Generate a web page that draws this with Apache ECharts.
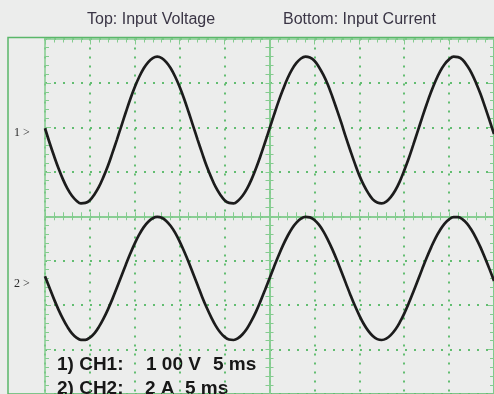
<!DOCTYPE html>
<html>
<head>
<meta charset="utf-8">
<script src="https://cdn.jsdelivr.net/npm/echarts@6/dist/echarts.min.js"></script>
<style>
  html, body { margin: 0; padding: 0; background: #ecedec; }
  #chart { width: 494px; height: 394px; }
</style>
</head>
<body>
<div id="chart"></div>
<script>
// ---- Data (5 ms/div time base) ----
const TIME_MS = [0,0.5,1,1.5,2,2.5,3,3.5,4,4.5,5,5.5,6,6.5,7,7.5,8,8.5,9,9.5,
  10,10.5,11,11.5,12,12.5,13,13.5,14,14.5,15,15.5,16,16.5,17,17.5,18,18.5,19,19.5,
  20,20.5,21,21.5,22,22.5,23,23.5,24,24.5,25,25.5,26,26.5,27,27.5,28,28.5,29,29.5,
  30,30.5,31,31.5,32,32.5,33,33.5,34,34.5,35,35.5,36,36.5,37,37.5,38,38.5,39,39.5,
  40,40.5,41,41.5,42,42.5,43,43.5,44,44.5,45,45.5,46,46.5,47,47.5,48,48.5,49,49.5,50];
// CH1 input voltage (V), 100 V/div
const VOLTAGE = [1,-31,-61,-89,-114,-135,-151,-162,-168,-167,
  -161,-148,-131,-109,-84,-55,-25,6,37,67,
  94,117,136,150,159,162,159,150,136,117,
  94,67,37,6,-25,-55,-84,-109,-131,-148,
  -161,-167,-168,-162,-151,-135,-114,-89,-61,-31,
  0,31,61,88,113,133,148,158,162,160,
  153,139,121,99,72,43,13,-19,-49,-78,
  -105,-127,-145,-159,-166,-168,-164,-154,-139,-119,
  -94,-67,-37,-6,25,55,83,108,129,145,
  156,162,161,155,142,125,103,78,49,19,-12];
// CH2 input current (A), 2 A/div
const CURRENT = [0.10,-0.42,-0.93,-1.40,-1.82,-2.18,-2.47,-2.66,-2.76,-2.76,
  -2.66,-2.47,-2.18,-1.82,-1.40,-0.93,-0.42,0.10,0.62,1.12,
  1.58,1.98,2.31,2.55,2.71,2.77,2.73,2.59,2.36,2.05,
  1.66,1.21,0.73,0.21,-0.31,-0.83,-1.31,-1.74,-2.12,-2.42,
  -2.63,-2.75,-2.77,-2.69,-2.51,-2.25,-1.90,-1.49,-1.02,-0.52,
  0.00,0.52,1.02,1.49,1.90,2.25,2.51,2.69,2.77,2.75,
  2.63,2.42,2.12,1.74,1.31,0.83,0.31,-0.21,-0.73,-1.22,
  -1.66,-2.05,-2.36,-2.59,-2.73,-2.77,-2.71,-2.55,-2.31,-1.98,
  -1.58,-1.12,-0.62,-0.10,0.42,0.93,1.40,1.83,2.18,2.47,
  2.66,2.76,2.76,2.66,2.47,2.18,1.82,1.40,0.92,0.42,-0.11];

const HEADERS = ['Top: Input Voltage', 'Bottom: Input Current'];
const CH_MARKERS = ['1 >', '2 >'];
const SETTINGS_1 = ['1) CH1:', '1 00 V', '5 ms'];
const SETTINGS_2 = ['2) CH2:', '2 A', '5 ms'];

// ---- styling ----
const BG = '#ecedec';
const DOT = '#62bd71';
const SOLID = '#84cc8f';
const FRAME = '#5ab769';
const TRACE = '#1c1c1c';
const PLOT = { left: 45, top: 38.5, width: 452, height: 356 };

const chart = echarts.init(document.getElementById('chart'), null, { renderer: 'canvas' });

function centerX(gi, inside) {
  return {
    gridIndex: gi, type: 'value', min: -25, max: 25, interval: 5,
    axisLine: { show: true, onZero: true, lineStyle: { color: SOLID, width: 1.5 } },
    axisTick: { show: true, inside: inside, length: 4, lineStyle: { color: SOLID, width: 1 } },
    minorTick: { show: true, splitNumber: 5, length: 4, lineStyle: { color: SOLID, width: 1 } },
    axisLabel: { show: false }, splitLine: { show: false }
  };
}
function centerY(gi, inside) {
  return {
    gridIndex: gi, type: 'value', min: -4, max: 4, interval: 1,
    axisLine: { show: true, onZero: true, lineStyle: { color: SOLID, width: 1.5 } },
    axisTick: { show: true, inside: inside, length: 4, lineStyle: { color: SOLID, width: 1 } },
    minorTick: { show: true, splitNumber: 5, length: 4, lineStyle: { color: SOLID, width: 1 } },
    axisLabel: { show: false }, splitLine: { show: false }
  };
}
function edgeAxis(gi, pos, isX) {
  const a = {
    gridIndex: gi, type: 'value', position: pos,
    axisLine: { show: true, onZero: false, lineStyle: { color: SOLID, width: 1.5 } },
    axisTick: { show: true, inside: true, length: 6, lineStyle: { color: SOLID, width: 1 } },
    minorTick: { show: true, splitNumber: 5, length: 4, lineStyle: { color: SOLID, width: 1 } },
    axisLabel: { show: false }, splitLine: { show: false }
  };
  if (isX) { a.min = -25; a.max = 25; a.interval = 5; } else { a.min = -4; a.max = 4; a.interval = 1; }
  return a;
}

function txt(text, x, y, font, fill) {
  return { type: 'text', x: x, y: y, silent: true,
    style: { text: text, font: font, fill: fill, verticalAlign: 'middle', align: 'left' } };
}

const headFont = '16px "Liberation Sans", Arial, sans-serif';
const setFont = 'bold 19px "Liberation Sans", Arial, sans-serif';
const markFont = '12px "Liberation Serif", "Times New Roman", serif';

const option = {
  animation: false,
  backgroundColor: BG,
  grid: [
    Object.assign({}, PLOT, { show: false }),
    Object.assign({}, PLOT, { show: false }),
    Object.assign({}, PLOT, { show: false }),
    Object.assign({}, PLOT, { show: false }),
    { left: 8, top: 37.5, width: 540, height: 420, show: true, borderColor: FRAME, borderWidth: 1.5, backgroundColor: 'transparent' }
  ],
  xAxis: [
    { gridIndex: 0, type: 'value', min: 0, max: 50, interval: 5,
      axisLine: { show: false }, axisTick: { show: false }, axisLabel: { show: false },
      splitLine: { show: true, lineStyle: { color: DOT, width: 2, type: [2, 7] } } },
    centerX(1, false),
    centerX(2, true),
    edgeAxis(3, 'top', true),
    { gridIndex: 4, type: 'value', show: false, min: 0, max: 1 }
  ],
  yAxis: [
    { gridIndex: 0, type: 'value', min: -4, max: 4, interval: 1,
      axisLine: { show: false }, axisTick: { show: false }, axisLabel: { show: false },
      splitLine: { show: true, lineStyle: { color: DOT, width: 2, type: [2, 7] } } },
    { gridIndex: 0, type: 'value', show: false, min: -597, max: 203 },
    { gridIndex: 0, type: 'value', show: false, min: -5.2, max: 10.8 },
    centerY(1, false),
    centerY(2, true),
    edgeAxis(3, 'left', false),
    edgeAxis(3, 'right', false),
    { gridIndex: 4, type: 'value', show: false, min: 0, max: 1 }
  ],
  series: [
    { name: 'Input Voltage', type: 'line', xAxisIndex: 0, yAxisIndex: 1,
      data: TIME_MS.map((t, i) => [t, VOLTAGE[i]]),
      smooth: 0.4, symbol: 'none', z: 10,
      lineStyle: { color: TRACE, width: 2.7 } },
    { name: 'Input Current', type: 'line', xAxisIndex: 0, yAxisIndex: 2,
      data: TIME_MS.map((t, i) => [t, CURRENT[i]]),
      smooth: 0.4, symbol: 'none', z: 10,
      lineStyle: { color: TRACE, width: 2.7 } }
  ],
  graphic: [
    txt(HEADERS[0], 87, 20, headFont, '#3a3545'),
    txt(HEADERS[1], 283, 20, headFont, '#3a3545'),
    txt(CH_MARKERS[0], 14, 133, markFont, '#2a2a2a'),
    txt(CH_MARKERS[1], 14, 284, markFont, '#2a2a2a'),
    txt(SETTINGS_1[0], 57, 365, setFont, '#171717'),
    txt(SETTINGS_1[1], 146, 365, setFont, '#171717'),
    txt(SETTINGS_1[2], 213, 365, setFont, '#171717'),
    txt(SETTINGS_2[0], 57, 389, setFont, '#171717'),
    txt(SETTINGS_2[1], 145, 389, setFont, '#171717'),
    txt(SETTINGS_2[2], 185, 389, setFont, '#171717')
  ]
};
chart.setOption(option);
</script>
</body>
</html>
